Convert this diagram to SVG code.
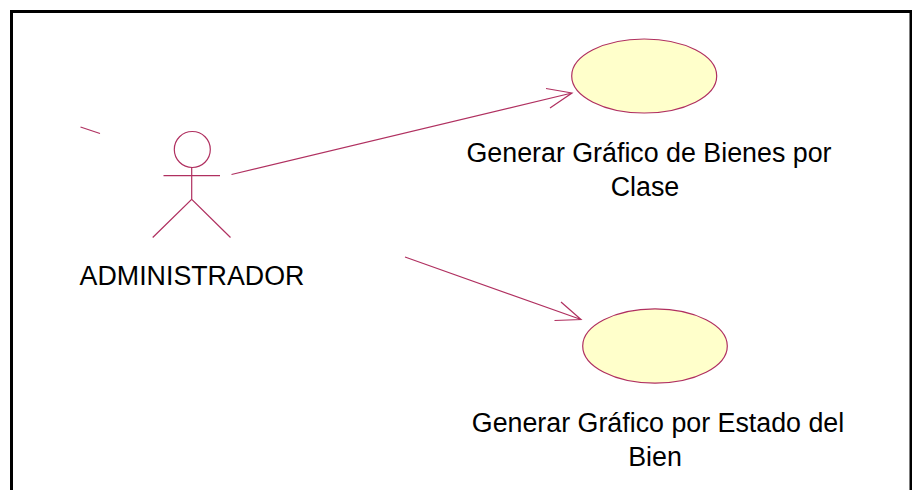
<svg xmlns="http://www.w3.org/2000/svg" width="912" height="490" viewBox="0 0 912 490">
<style>
.s{fill:none;stroke:#b03060;stroke-width:1.2}
.u{fill:#ffffcb;stroke:#b03060;stroke-width:1.2}
.t{font-family:"Liberation Sans",Arial,sans-serif;font-size:26.8px;fill:#000}
</style>
<rect width="912" height="490" fill="#fff"/>
<path d="M11.5 490V11.5H911V490" fill="none" stroke="#000" stroke-width="3"/>
<g id="connectors">
<path class="s" d="M231.5 174.5L572 93M546 88.5L572 93L550 108"/>
<path class="s" d="M405 257L581 319.5M561 302L581 319.5L554.5 320.5"/>
<path class="s" d="M80.5 127L100 133.5"/>
</g>
<g id="actor">
<circle class="s" cx="192.3" cy="149.5" r="18"/>
<path class="s" d="M191.7 167V199.3M163.5 175.7H220M152.7 237.5L191.7 199.3L230.5 237.5"/>
<text class="t" x="192" y="285" text-anchor="middle">ADMINISTRADOR</text>
</g>
<g id="uc1">
<ellipse class="u" cx="644.2" cy="76" rx="72.5" ry="37"/>
<text class="t" x="649" y="162" text-anchor="middle">Generar Gráfico de Bienes por</text>
<text class="t" x="645" y="196" text-anchor="middle">Clase</text>
</g>
<g id="uc2">
<ellipse class="u" cx="655" cy="346" rx="72.3" ry="37.2"/>
<text class="t" x="658" y="432" text-anchor="middle">Generar Gráfico por Estado del</text>
<text class="t" x="655" y="466" text-anchor="middle">Bien</text>
</g>
</svg>
